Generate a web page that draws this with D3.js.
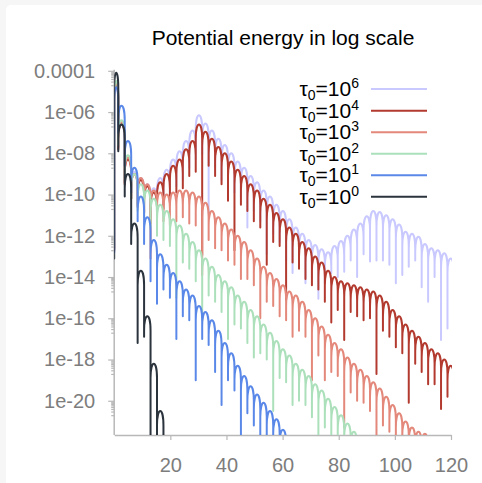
<!DOCTYPE html>
<html><head><meta charset="utf-8">
<script src="https://cdn.jsdelivr.net/npm/d3@7"></script>
<style>
html,body{margin:0;padding:0;background:#f6f6f6;}
svg{display:block;}
text{font-family:"Liberation Sans",Arial,Helvetica,sans-serif;}
</style></head><body>
<svg id="c" width="482" height="483"></svg>
<script>
// times of the zero crossings (dips) shared by all runs
const dipX = [0,1.45,3.75,6.05,8.35,10.65,12.95,15.25,17.55,19.85,22.15,24.45,26.75,29.05,31.35,33.65,35.95,38.25,40.55,42.85,45.15,47.45,49.75,52.05,54.35,56.65,58.95,61.25,63.55,65.85,68.15,70.45,72.75,75.05,77.35,79.65,81.95,84.25,86.55,88.85,91.15,93.45,95.75,98.05,100.35,102.65,104.95,107.25,109.55,111.85,114.15,116.45,118.75,121.05];

// log10 of each hump maximum, and depth (decades) of each dip below the lower neighbouring hump
const lavenderPeaks = [-4.6,-6.5,-8.2,-8.9,-9.2,-9.5,-9.7,-9.2,-8.8,-8.3,-7.9,-7.4,-6.9,-6.15,-6.55,-6.9,-7.3,-7.6,-8.0,-8.4,-8.7,-9.1,-9.4,-9.8,-10.1,-10.5,-10.8,-11.2,-11.6,-11.9,-12.2,-12.45,-12.65,-12.8,-12.5,-12.25,-12.0,-11.7,-11.4,-11.05,-10.8,-10.85,-11.0,-11.2,-11.45,-11.8,-11.9,-12.05,-12.4,-12.6,-12.7,-12.85,-13.1];
const lavenderDepths = [8,1.2,1.2,1.2,1.3,1.3,1.4,1.3,1.3,1.4,1.3,1.4,1.3,1.4,1.5,4.0,1.4,1.7,1.4,1.5,1.4,2.5,1.4,1.5,2.8,1.4,1.5,2.0,2.2,1.5,2.1,1.6,2.4,1.5,1.0,1.5,1.5,1.2,2.3,1.5,2.2,2.35,2.2,2.2,2.85,2.1,1.6,1.15,2.1,2.6,1.3,4.2,3.4,1.5];

const redPeaks = [-4.7,-6.6,-8.3,-9.0,-9.3,-9.6,-9.9,-9.4,-9.0,-8.6,-8.3,-7.8,-7.4,-6.6,-6.95,-7.3,-7.7,-8.0,-8.4,-8.8,-9.1,-9.5,-9.8,-10.2,-10.5,-10.9,-11.2,-11.6,-11.9,-12.3,-12.6,-13.0,-13.3,-13.7,-14.0,-14.2,-14.3,-14.4,-14.5,-14.6,-14.7,-14.9,-15.2,-15.6,-15.9,-16.3,-16.6,-16.9,-17.2,-17.5,-17.7,-18.0,-18.3];
const redDepths = [8,1.2,1.2,1.2,1.3,1.3,1.5,1.3,1.3,1.4,1.3,1.4,1.3,1.5,6.0,1.3,1.4,1.5,1.9,3.9,1.4,1.3,1.5,1.4,2.9,1.4,1.3,3.5,1.4,1.3,1.5,1.4,1.3,1.5,2.2,1.4,2.75,1.3,1.4,1.5,1.3,3.8,1.4,1.3,1.5,1.4,3.5,1.3,1.4,1.7,1.5,2.4,1.5,2.7];

const salmonPeaks = [-4.6,-6.5,-8.2,-9.0,-9.2,-9.5,-9.8,-9.9,-10.0,-9.9,-9.8,-9.8,-9.9,-10.1,-10.4,-10.8,-11.1,-11.4,-11.7,-12.0,-12.3,-12.7,-13.1,-13.5,-13.8,-14.1,-14.4,-14.7,-14.9,-15.2,-15.6,-16.0,-16.4,-16.8,-17.2,-17.5,-17.9,-18.2,-18.5,-18.8,-19.1,-19.4,-19.8,-20.2,-20.6,-21.0,-21.3,-21.5,-21.6,-22.2];
const salmonDepths = [8,1.2,1.2,1.2,1.3,1.4,3.3,1.4,1.3,1.5,1.4,1.3,1.5,1.4,3.5,1.4,1.5,1.3,1.5,1.4,1.8,1.4,1.3,2.5,1.4,1.3,1.5,1.4,2.0,1.4,1.3,3.0,1.4,2.2,1.4,1.3,3.4,1.4,1.5,1.3,1.4,4,1.4,1.3,1.5,1.2,4,1.0,1.0,3,3];

const greenPeaks = [-4.5,-6.4,-8.1,-9.0,-9.5,-9.8,-10.2,-10.5,-10.8,-11.2,-11.5,-11.9,-12.3,-12.7,-13.1,-13.5,-13.9,-14.2,-14.5,-14.9,-15.2,-15.6,-15.9,-16.3,-16.7,-17.1,-17.5,-17.8,-18.2,-18.5,-18.8,-19.2,-19.5,-19.9,-20.3,-20.7,-21.1,-21.5,-22.0];
const greenDepths = [8,1.2,1.2,1.2,1.3,1.3,1.4,1.5,1.4,1.3,3.5,1.4,1.3,1.5,3.0,1.4,1.3,1.5,2.5,1.4,1.3,1.6,2.0,1.4,1.3,3.4,1.4,1.3,2.0,1.5,1.4,1.6,6,1.4,1.5,2.0,1.4,6,6,6];

const bluePeaks = [-4.8,-5.7,-7.4,-8.7,-10.1,-11.1,-12.2,-12.9,-13.4,-13.8,-14.2,-14.6,-14.9,-15.4,-15.7,-16.1,-16.6,-17.2,-17.7,-18.3,-18.8,-19.3,-19.7,-20.1,-20.5,-20.9,-21.4,-21.9];
const blueDepths = [8,1.3,1.2,1.2,1.2,1.3,2.0,2.4,1.2,1.2,2.8,1.3,1.2,3.6,1.3,1.2,2.0,3.0,1.3,1.2,6,1.3,1.5,6,1.3,6,1.3,6,6];

const blackPeaks = [-4.1,-6.6,-9.0,-11.4,-13.7,-15.9,-18.2,-20.5];
const blackDepths = [9.0,1.3,1.1,1.0,3.5,1.0,8,8,8];

const legendExponents = ["6","4","3","2","1","0"];
const seriesColors = ["#c9c9ff","#b23a2f","#e3887a","#abe0bb","#5a88e8","#2b333d"];

const xTicks = [20,40,60,80,100,120];
const yTickValues = [1e-4,1e-6,1e-8,1e-10,1e-12,1e-14,1e-16,1e-18,1e-20];
const yTickLabels = ["0.0001","1e-06","1e-08","1e-10","1e-12","1e-14","1e-16","1e-18","1e-20"];
const titleText = "Potential energy in log scale";

const series = [
  {peaks: lavenderPeaks, depths: lavenderDepths},
  {peaks: redPeaks, depths: redDepths},
  {peaks: salmonPeaks, depths: salmonDepths},
  {peaks: greenPeaks, depths: greenDepths},
  {peaks: bluePeaks, depths: blueDepths},
  {peaks: blackPeaks, depths: blackDepths}
];

(function draw(){
const svg = d3.select("#c");
svg.append("rect").attr("x",6).attr("y",5).attr("width",490).attr("height",490).attr("rx",5).attr("fill","#fff");

const pL = 114.2, pR = 451, pT = 70.8, pB = 435;
const x = d3.scaleLinear().domain([0,120]).range([pL,pR]);
const y = d3.scaleLog().domain([Math.pow(10,-21.66),1e-4]).range([pB,pT]);
const Y = L => y(Math.pow(10,L));

svg.append("text").attr("x",283).attr("y",45).attr("text-anchor","middle")
  .attr("font-size",21).attr("fill","#000").text(titleText);

const axisColor = "#b8b8b8", labelColor = "#7d7d7d";
const minorVals = [];
yTickValues.forEach(v => { for (let k=2;k<=9;k++){ const m = k*v/10; if (m >= y.domain()[0]) minorVals.push(m);} });

const gy = svg.append("g").attr("transform",`translate(${pL},0)`)
  .call(d3.axisLeft(y).tickValues(yTickValues).tickFormat((d,i)=>yTickLabels[i]).tickSize(6).tickSizeOuter(0).tickPadding(13));
const gym = svg.append("g").attr("transform",`translate(${pL},0)`)
  .call(d3.axisLeft(y).tickValues(minorVals).tickFormat("").tickSize(3).tickSizeOuter(0));
gym.select(".domain").remove();
const gx = svg.append("g").attr("transform",`translate(0,${pB})`)
  .call(d3.axisBottom(x).tickValues(xTicks).tickFormat(d3.format("d")).tickSize(5).tickSizeOuter(0));
[gy,gym,gx].forEach(g=>{
  g.selectAll(".domain").attr("stroke",axisColor).attr("stroke-width",1.5);
  g.selectAll(".tick line").attr("stroke",axisColor).attr("stroke-width",1.2);
  g.selectAll("text").attr("fill",labelColor).attr("font-size",20).attr("font-family","Liberation Sans, Arial, sans-serif");
});
gx.selectAll(".tick text").attr("y",23);
gy.select(".domain").attr("d",`M0,${pT-1}V${pB}`);

svg.append("clipPath").attr("id","clip").append("rect")
  .attr("x",pL).attr("y",pT-6).attr("width",pR-pL+1).attr("height",pB-pT+6);

const SH = 0.7;
function humpPath(peaks, depths){
  const p = d3.path();
  const n = peaks.length;
  const dipVal = j => {
    const a = j>0 ? peaks[j-1] : peaks[0];
    const b = j<n ? peaks[j] : peaks[n-1];
    return Math.min(a,b) - depths[j];
  };
  for (let k=0;k<n;k++){
    const xl = x(dipX[k]), xr = x(dipX[k+1]);
    const t = Y(peaks[k]), sh = Y(peaks[k]-SH);
    const c = (4*t - sh)/3;
    if (k===0) p.moveTo(xl, Y(dipVal(0)));
    p.lineTo(xl, sh);
    p.bezierCurveTo(xl, c, xr, c, xr, sh);
    p.lineTo(xr, Y(dipVal(k+1)));
  }
  return p.toString();
}

const plot = svg.append("g").attr("clip-path","url(#clip)");
series.forEach((s,i)=>{
  plot.append("path").attr("d",humpPath(s.peaks,s.depths))
    .attr("fill","none").attr("stroke",seriesColors[i]).attr("stroke-width",2)
    .attr("stroke-linejoin","round").attr("stroke-linecap","round");
});

const legendY = [89,110.7,132.2,153.7,175.2,196.7];
legendExponents.forEach((e,i)=>{
  const ly = legendY[i];
  svg.append("line").attr("x1",371).attr("x2",427).attr("y1",ly).attr("y2",ly)
    .attr("stroke",seriesColors[i]).attr("stroke-width",2);
  const t = svg.append("text").attr("x",359).attr("y",ly+7).attr("text-anchor","end")
    .attr("font-size",21).attr("fill","#000");
  t.append("tspan").text("τ");
  t.append("tspan").attr("font-size",14).attr("dy",4).text("0");
  t.append("tspan").attr("dy",-4).text("=10");
  t.append("tspan").attr("font-size",14).attr("dy",-8).text(e);
});
})();
</script>
</body></html>
